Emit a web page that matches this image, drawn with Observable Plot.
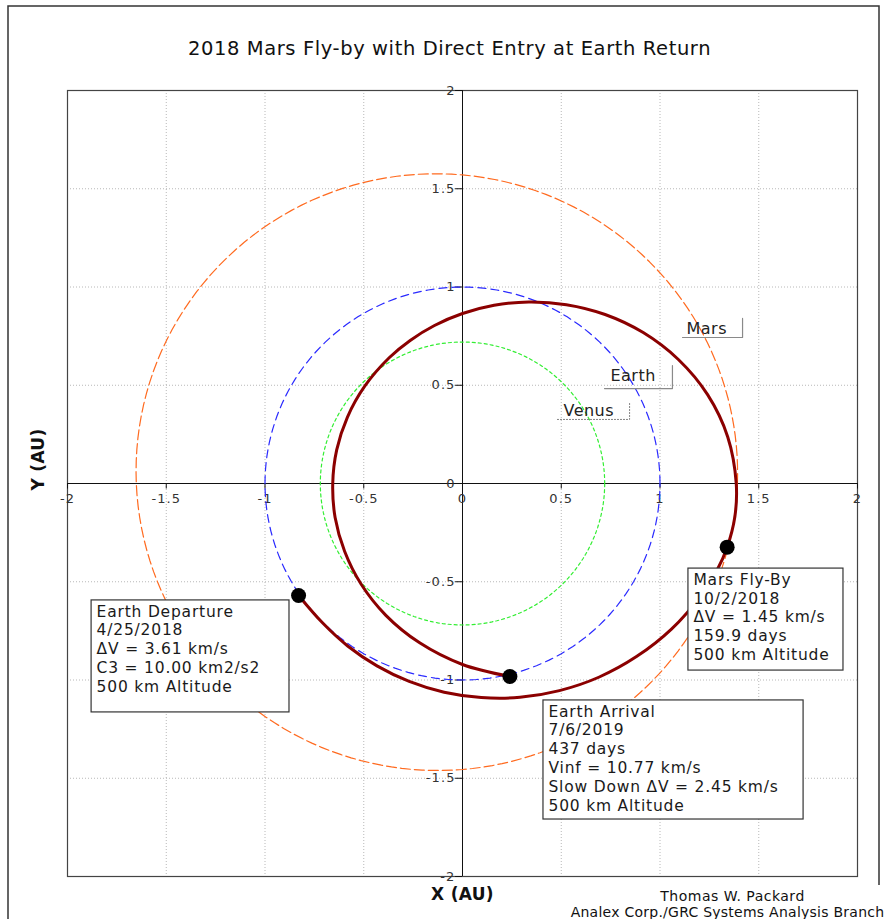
<!DOCTYPE html>
<html><head><meta charset="utf-8">
<script src="https://cdn.jsdelivr.net/npm/d3@7"></script>
<script src="https://cdn.jsdelivr.net/npm/@observablehq/plot@0.6"></script>
<style>body{margin:0;background:#fff;} #chart svg{display:block;}</style>
</head><body><div id="chart"></div>
<script>
// ---- data ----
const xTicks = [-2, -1.5, -1, -0.5, 0, 0.5, 1, 1.5, 2];
const xTickLabels = ["-2", "-1.5", "-1", "-0.5", "0", "0.5", "1", "1.5", "2"];
const yTicks = [-2, -1.5, -1, -0.5, 0, 0.5, 1, 1.5, 2];
const yTickLabels = ["-2", "-1.5", "-1", "-0.5", "0", "0.5", "1", "1.5", "2"];

// planet orbits (semi-major axis AU, eccentricity, longitude of perihelion deg)
const orbitNames = ["Venus", "Earth", "Mars"];
const orbitA = [0.72, 1.00, 1.524];
const orbitE = [0.0, 0.0, 0.0934];
const orbitPeri = [0, 0, 336];

// spacecraft trajectory (AU): departure -> Mars fly-by -> Earth arrival
const trajX = [-0.830, -0.709, -0.580, -0.433, -0.270, -0.093, 0.095, 0.291, 0.491, 0.690, 0.881, 1.058, 1.211, 1.288,
  1.340, 1.379, 1.386, 1.343, 1.241, 1.093, 0.915, 0.722, 0.526, 0.336, 0.160, 0.000, -0.142, -0.265, -0.370,
  -0.495, -0.583, -0.637, -0.657, -0.645, -0.597, -0.513, -0.388, -0.217, 0.000, 0.240];
const trajY = [-0.570, -0.709, -0.828, -0.928, -1.007, -1.062, -1.089, -1.088, -1.054, -0.986, -0.881, -0.741, -0.565, -0.443,
  -0.324, -0.169, 0.000, 0.237, 0.452, 0.631, 0.768, 0.860, 0.910, 0.924, 0.907, 0.865, 0.804, 0.728, 0.641,
  0.495, 0.337, 0.171, 0.000, -0.173, -0.345, -0.513, -0.671, -0.811, -0.921, -0.982];

// mission events
const eventNames = ["Earth Departure", "Mars Fly-By", "Earth Arrival"];
const eventX = [-0.830, 1.340, 0.240];
const eventY = [-0.570, -0.324, -0.982];
const eventLines = [
  ["Earth Departure", "4/25/2018", "\u0394V = 3.61 km/s", "C3 = 10.00 km2/s2", "500 km Altitude"],
  ["Mars Fly-By", "10/2/2018", "\u0394V = 1.45 km/s", "159.9 days", "500 km Altitude"],
  ["Earth Arrival", "7/6/2019", "437 days", "Vinf = 10.77 km/s", "Slow Down \u0394V = 2.45 km/s", "500 km Altitude"]
];

const titleText = "2018 Mars Fly-by with Direct Entry at Earth Return";
const xLabel = "X (AU)";
const yLabel = "Y (AU)";
const credits = ["Thomas W. Packard", "Analex Corp./GRC Systems Analysis Branch"];

// ---- layout (annotation placement in AU) ----
const boxLayout = [
  {x1: -1.878, x2: -0.876, y1: -0.595, y2: -1.165},
  {x1: 1.144, x2: 1.929, y1: -0.433, y2: -0.952},
  {x1: 0.410, x2: 1.727, y1: -1.104, y2: -1.710}
];
const planetLabelLayout = [
  {name: "Mars", tx: 1.134, ty: 0.789, left: 1.114, right: 1.418, top: 0.840, bottom: 0.743},
  {name: "Earth", tx: 0.749, ty: 0.550, left: 0.719, right: 1.063, top: 0.600, bottom: 0.483},
  {name: "Venus", tx: 0.511, ty: 0.372, left: 0.481, right: 0.846, top: 0.417, bottom: 0.326}
];
const orbitStyle = {
  Venus: {stroke: "#33ee33", dash: "3,3"},
  Earth: {stroke: "#2a2aff", dash: "8,5"},
  Mars: {stroke: "#ff6a1f", dash: "10,4"}
};

// ---- build ----
const FONT = "DejaVu Sans, Verdana, sans-serif";
const orbitPts = orbitNames.flatMap((name, i) => d3.range(0, 361, 2).map(deg => {
  const th = deg * Math.PI / 180;
  const e = orbitE[i];
  const r = orbitA[i] * (1 - e * e) / (1 + e * Math.cos(th - orbitPeri[i] * Math.PI / 180));
  return {name, x: r * Math.cos(th), y: r * Math.sin(th)};
}));
const traj = trajX.map((x, i) => ({x, y: trajY[i]}));
const events = eventNames.map((n, i) => ({name: n, x: eventX[i], y: eventY[i]}));
const boxes = boxLayout.map((b, i) => ({...b, text: eventLines[i].join("\n")}));
const labelLines = planetLabelLayout.flatMap(l => [
  {name: l.name, x: l.left, y: l.bottom},
  {name: l.name, x: l.right, y: l.bottom},
  {name: l.name, x: l.right, y: l.top}
]);
const gridX = xTicks.filter(v => v !== 0);
const gridY = yTicks.filter(v => v !== 0);

const orbitMarks = orbitNames.map(n => Plot.line(orbitPts.filter(d => d.name === n), {
  x: "x", y: "y", stroke: orbitStyle[n].stroke, strokeDasharray: orbitStyle[n].dash, strokeWidth: 1.2
}));

const chart = Plot.plot({
  width: 888,
  height: 919,
  marginLeft: 67,
  marginRight: 31,
  marginTop: 90,
  marginBottom: 43,
  style: {fontFamily: FONT, background: "#fff", overflow: "visible"},
  x: {domain: [-2, 2], axis: null},
  y: {domain: [-2, 2], axis: null},
  marks: [
    Plot.ruleX(gridX, {stroke: "#b8b8b8", strokeDasharray: "1,2"}),
    Plot.ruleY(gridY, {stroke: "#b8b8b8", strokeDasharray: "1,2"}),
    Plot.frame({stroke: "#444", strokeWidth: 1.2}),
    Plot.ruleX([0], {stroke: "#111"}),
    Plot.ruleY([0], {stroke: "#111"}),
    Plot.ruleX(xTicks, {x: d => d, y1: 0, y2: -0.028, stroke: "#111"}),
    Plot.ruleY(yTicks, {y: d => d, x1: -0.035, x2: 0, stroke: "#111"}),
    Plot.text(xTicks, {x: d => d, y: 0, text: (d, i) => xTickLabels[i], dy: 15, fontSize: 13, fill: "#333"}),
    Plot.text(yTicks, {x: 0, y: d => d, text: (d, i) => yTickLabels[i], textAnchor: "end", dx: -7, fontSize: 13, fill: "#333"}),
    ...orbitMarks,
    Plot.line(traj, {x: "x", y: "y", stroke: "#8b0000", strokeWidth: 3, curve: "catmull-rom"}),
    Plot.dot(events, {x: "x", y: "y", r: 7.5, fill: "#000"}),
    Plot.line(labelLines.filter(d => d.name !== "Venus"), {x: "x", y: "y", z: "name", stroke: "#8a8a8a", strokeWidth: 1.2}),
    Plot.line(labelLines.filter(d => d.name === "Venus"), {x: "x", y: "y", z: "name", stroke: "#777", strokeWidth: 1, strokeDasharray: "1,2"}),
    Plot.text(planetLabelLayout, {x: "tx", y: "ty", text: "name", textAnchor: "start", fontSize: 16, fill: "#222"}),
    Plot.rect(boxes, {x1: "x1", x2: "x2", y1: "y1", y2: "y2", fill: "#fff", stroke: "#333", strokeWidth: 1.2}),
    Plot.text(boxes, {x: "x1", y: "y1", text: "text", textAnchor: "start", lineAnchor: "top", dx: 5, dy: 3, lineHeight: 1.21, fontSize: 15.5, fill: "#1a1a1a"}),
    Plot.text([titleText], {frameAnchor: "top", dx: -13, dy: -49, fontSize: 19.5, fill: "#111"}),
    Plot.text([xLabel], {frameAnchor: "bottom", dy: 23, fontSize: 17, fontWeight: "bold", fill: "#111"}),
    Plot.text([yLabel], {frameAnchor: "left", dx: -29, dy: 7, rotate: -90, fontSize: 17, fontWeight: "bold", fill: "#111"}),
    Plot.text([credits[0]], {frameAnchor: "bottom", dx: 270, dy: 24, fontSize: 14, fill: "#111"}),
    Plot.text([credits[1]], {frameAnchor: "bottom", dx: 265, dy: 40, fontSize: 14, fill: "#111"})
  ]
});

document.getElementById("chart").appendChild(chart);
// Verdana-like wider letter spacing, per text mark in order of the marks above
const textSpacing = [1.1, 1.1, 0.5, 0.8, 0.6, 0.3, 0.3, 0.5, 0.25];
d3.select(chart).selectAll('g[aria-label="text"]').each(function(d, i) {
  if (i < textSpacing.length) d3.select(this).attr("letter-spacing", textSpacing[i]);
});
// outer border of the graphic
d3.select(chart).append("path")
  .attr("d", "M8,919V6H879V885")
  .attr("fill", "none").attr("stroke", "#333").attr("stroke-width", 1.5);
</script>
</body></html>
